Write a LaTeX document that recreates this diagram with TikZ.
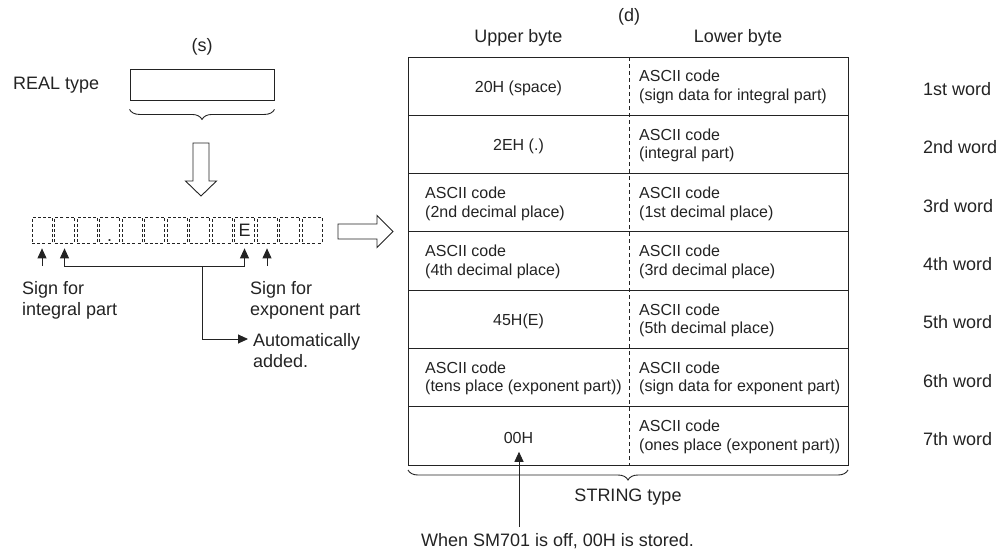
\documentclass[tikz,border=0pt]{standalone}
\usepackage{fontspec}
\setmainfont{Liberation Sans}
\usetikzlibrary{arrows.meta,decorations.pathreplacing}
\definecolor{txt}{RGB}{35,35,35}
\definecolor{lc}{RGB}{35,35,35}
\begin{document}
\begin{tikzpicture}[x=1pt,y=-1pt,
  lbl/.style={font=\fontsize{18}{21}\selectfont, text=txt, inner sep=0},
  cell/.style={font=\fontsize{16}{18.5}\selectfont, text=txt, inner sep=0, align=left},
  ln/.style={draw=lc, line width=0.9pt},
  arr/.style={draw=lc, line width=0.9pt, -{Triangle[length=10pt,width=9pt]}},
  dbox/.style={draw=lc, dash pattern=on 3pt off 2.2pt, line width=0.7pt, minimum width=20pt, minimum height=26pt, inner sep=0},
  brc/.style={draw=lc, line width=0.9pt, decorate, decoration={brace, amplitude=10pt, mirror}},
  hollow/.style={draw=lc, line width=0.9pt, fill=white, line join=miter},
]
\useasboundingbox (0,0) rectangle (1008,554);

% ---------- left: REAL type ----------
\node[lbl] (s) at (202,47) {(s)};
\node[lbl, anchor=west] (real) at (13,85) {REAL type};
\node[ln, minimum width=144pt, minimum height=31pt, inner sep=0] (rbox) at (202,84.5) {};
\draw[brc] (rbox.south west) ++(0,9) coordinate (bl) -- (rbox.south east |- bl) coordinate (br);

% hollow down arrow
\draw[hollow] (193,143) -- (209,143) -- (209,181) -- (216.5,181) -- (201,196) -- (185.5,181) -- (193,181) -- cycle;

% dashed character boxes
\foreach \i in {1,...,13} \node[dbox] (b\i) at ({42+22.5*(\i-1)},230) {};
\node[lbl] (E) at (b10) {E};
\node[lbl, anchor=base] (dot) at (109.5,241) {.};

% hollow right arrow
\draw[hollow] (338,224) -- (377,224) -- (377,215.5) -- (393,231.5) -- (377,247.5) -- (377,239) -- (338,239) -- cycle;

% arrows under the boxes
\coordinate (hy) at (0,266);
\coordinate (mid) at (202,266);
\draw[arr, shorten >=5pt] (b1 |- hy) -- (b1.south);
\draw[arr, shorten >=5pt] (b11 |- hy) -- (b11.south);
\draw[arr, shorten >=5pt] (mid) -- (b2 |- hy) -- (b2.south);
\draw[arr, shorten >=5pt] (mid) -- (b10 |- hy) -- (b10.south);

\node[lbl, anchor=north west, align=left] (sint) at (22,281) {Sign for\\integral part};
\node[lbl, anchor=north west, align=left] (sexp) at (250,281) {Sign for\\exponent part};
\node[lbl, anchor=north west, align=left] (auto) at (253,333) {Automatically\\added.};
\coordinate (atip) at (248,339);
\draw[arr] (mid) |- (atip);

% ---------- right: table ----------
\node[lbl] (d) at (629,17) {(d)};
\node[lbl] (ub) at (518.5,38) {Upper byte};
\node[lbl] (lb) at (738,38) {Lower byte};

\coordinate (TL) at (408,57);
\coordinate (BR) at (848,465);
\draw[ln] (TL) rectangle (BR);
\foreach \i in {1,...,6} \draw[ln] (408,{57+58.286*\i}) -- (848,{57+58.286*\i});
\draw[draw=lc, line width=0.8pt, dash pattern=on 4pt off 3pt] (629,57) -- (629,465);

% row 1
\node[cell] (u1) at (518.5,88) {20H (space)};
\node[cell, anchor=west] (l1) at (639,87) {ASCII code\\(sign data for integral part)};
% row 2
\node[cell] (u2) at (518.5,146.4) {2EH (.)};
\node[cell, anchor=west] (l2) at (639,145.4) {ASCII code\\(integral part)};
% row 3
\node[cell, anchor=west] (u3) at (425,203.7) {ASCII code\\(2nd decimal place)};
\node[cell, anchor=west] (l3) at (639,203.7) {ASCII code\\(1st decimal place)};
% row 4
\node[cell, anchor=west] (u4) at (425,262) {ASCII code\\(4th decimal place)};
\node[cell, anchor=west] (l4) at (639,262) {ASCII code\\(3rd decimal place)};
% row 5
\node[cell] (u5) at (518.5,321.3) {45H(E)};
\node[cell, anchor=west] (l5) at (639,320.3) {ASCII code\\(5th decimal place)};
% row 6
\node[cell, anchor=west] (u6) at (425,378.6) {ASCII code\\(tens place (exponent part))};
\node[cell, anchor=west] (l6) at (639,378.6) {ASCII code\\(sign data for exponent part)};
% row 7
\node[cell] (u7) at (518.5,437.9) {00H};
\node[cell, anchor=west] (l7) at (639,436.9) {ASCII code\\(ones place (exponent part))};

% word labels
\foreach \i/\w in {1/1st,2/2nd,3/3rd,4/4th,5/5th,6/6th,7/7th}
  \node[lbl, anchor=west] (w\i) at (923,{57+58.286*(\i-0.5)+3}) {\w{} word};

% brace under table
\draw[brc] (408,470) coordinate (tbl) -- (848,470) coordinate (tbr);
\node[lbl] (str) at (628,497) {STRING type};

% note
\node[lbl, anchor=west] (note) at (421,541) {When SM701 is off, 00H is stored.};
\coordinate (nstart) at (519,527);
\draw[arr, shorten >=8pt] (nstart) -- (u7.south -| nstart);
\end{tikzpicture}
\end{document}
